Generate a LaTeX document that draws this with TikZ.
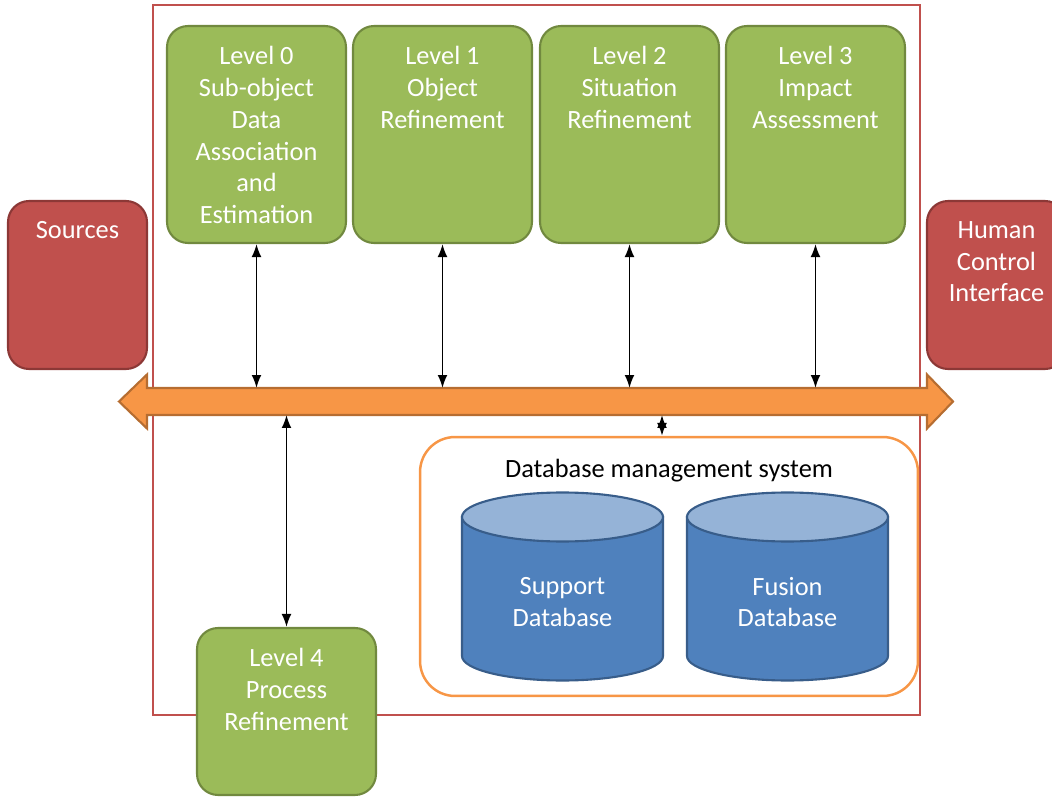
\documentclass[tikz,border=0pt]{standalone}
\usepackage{fontspec}
\setmainfont{Carlito}
\usetikzlibrary{positioning, arrows.meta}
\definecolor{LevelGreen}{HTML}{9BBB59}
\definecolor{LevelGreenDark}{HTML}{71893F}
\definecolor{SourceRed}{HTML}{C0504D}
\definecolor{SourceRedDark}{HTML}{8C3836}
\definecolor{BusOrange}{HTML}{F79646}
\definecolor{BusOrangeDark}{HTML}{B66D31}
\definecolor{DbBlue}{HTML}{4F81BD}
\definecolor{DbBlueLight}{HTML}{95B3D7}
\definecolor{DbBlueDark}{HTML}{385D8A}

\begin{document}
\begin{tikzpicture}[x=0.02cm, y=-0.02cm,
  boxtxt/.style={anchor=north, yshift=-0.42cm, inner sep=0pt, align=center,
                 text=white, font=\fontsize{15}{18.1}\selectfont},
  lvl/.style={rounded corners=0.42cm, draw=LevelGreenDark, fill=LevelGreen, line width=1.2pt,
              minimum width=3.58cm, minimum height=4.34cm, label={[boxtxt]north:{#1}}},
  ext/.style={rounded corners=0.42cm, draw=SourceRedDark, fill=SourceRed, line width=1.2pt,
              minimum width=2.78cm, minimum height=3.36cm, label={[boxtxt]north:{#1}}},
  dbms/.style={rounded corners=0.7cm, draw=BusOrange, fill=white, line width=1.4pt,
               minimum width=9.96cm, minimum height=5.18cm},
  dbtxt/.style={align=center, text=white, font=\fontsize{15}{18.1}\selectfont},
  cylbody/.style={fill=DbBlue, draw=DbBlueDark, line width=1.2pt},
  cyltop/.style={fill=DbBlueLight, draw=DbBlueDark, line width=1.2pt},
  bus/.style={fill=BusOrange, draw=BusOrangeDark, line width=1.2pt, line join=miter},
  frame/.style={draw=SourceRed, line width=1.2pt},
  dbl/.style={{Latex[length=2.6mm,width=2mm]}-{Latex[length=2.6mm,width=2mm]}, line width=1.1pt},
]
  \useasboundingbox (0,0) rectangle (1052,797);
  \clip (0,0) rectangle (1052,797);

  % fusion frame and bus
  \draw[frame] (153,5) rectangle (920,715);
  \draw[bus] (119,401.5) -- (147,374.5) -- (147,388) -- (927,388) -- (927,374.5)
    -- (953,401.5) -- (927,428.5) -- (927,415) -- (147,415) -- (147,428.5) -- cycle;
  \coordinate (bustop) at (0,388);
  \coordinate (busbot) at (0,415);
  \coordinate (dbtap) at (662,415);

  % levels
  \node[lvl={Level 0\\Sub-object\\Data\\Association\\and\\Estimation}] (l0) at (256.5,134.5) {};
  \node[lvl={Level 1\\Object\\Refinement}] (l1) at (442.5,134.5) {};
  \node[lvl={Level 2\\Situation\\Refinement}] (l2) at (629.5,134.5) {};
  \node[lvl={Level 3\\Impact\\Assessment}] (l3) at (815.5,134.5) {};
  \node[lvl={Level 4\\Process\\Refinement}, minimum height=3.34cm] (l4) at (286.5,711.5) {};

  \node[ext=Sources] (src) at (77.5,285) {};
  \node[ext={Human\\Control\\Interface}] (hci) at (996.5,285) {};

  % database management system
  \node[dbms] (dbms) at (669,566.5) {};
  \node[font=\fontsize{15}{18.1}\selectfont] (dbtitle) at (669,471) {Database management system};
  \foreach \cx/\nm/\txt in {562.5/sdb/Support, 787.5/fdb/Fusion} {
    \draw[cylbody] (\cx-100.5,517) -- (\cx-100.5,656)
      arc[start angle=180, end angle=0, x radius=100.5, y radius=24.5] -- (\cx+100.5,517) -- cycle;
    \draw[cyltop] (\cx,517) ellipse [x radius=100.5, y radius=24.5];
    \node[dbtxt] (\nm) at (\cx,602) {\txt\\Database};
  }

  % connectors
  \foreach \n in {l0,l1,l2,l3}
    \draw[dbl] (\n.south) -- (\n.south |- bustop);
  \draw[dbl] (busbot -| l4.north) -- (l4.north);
  \draw[dbl] (dbtap) -- (dbtap |- dbms.north);
\end{tikzpicture}
\end{document}
